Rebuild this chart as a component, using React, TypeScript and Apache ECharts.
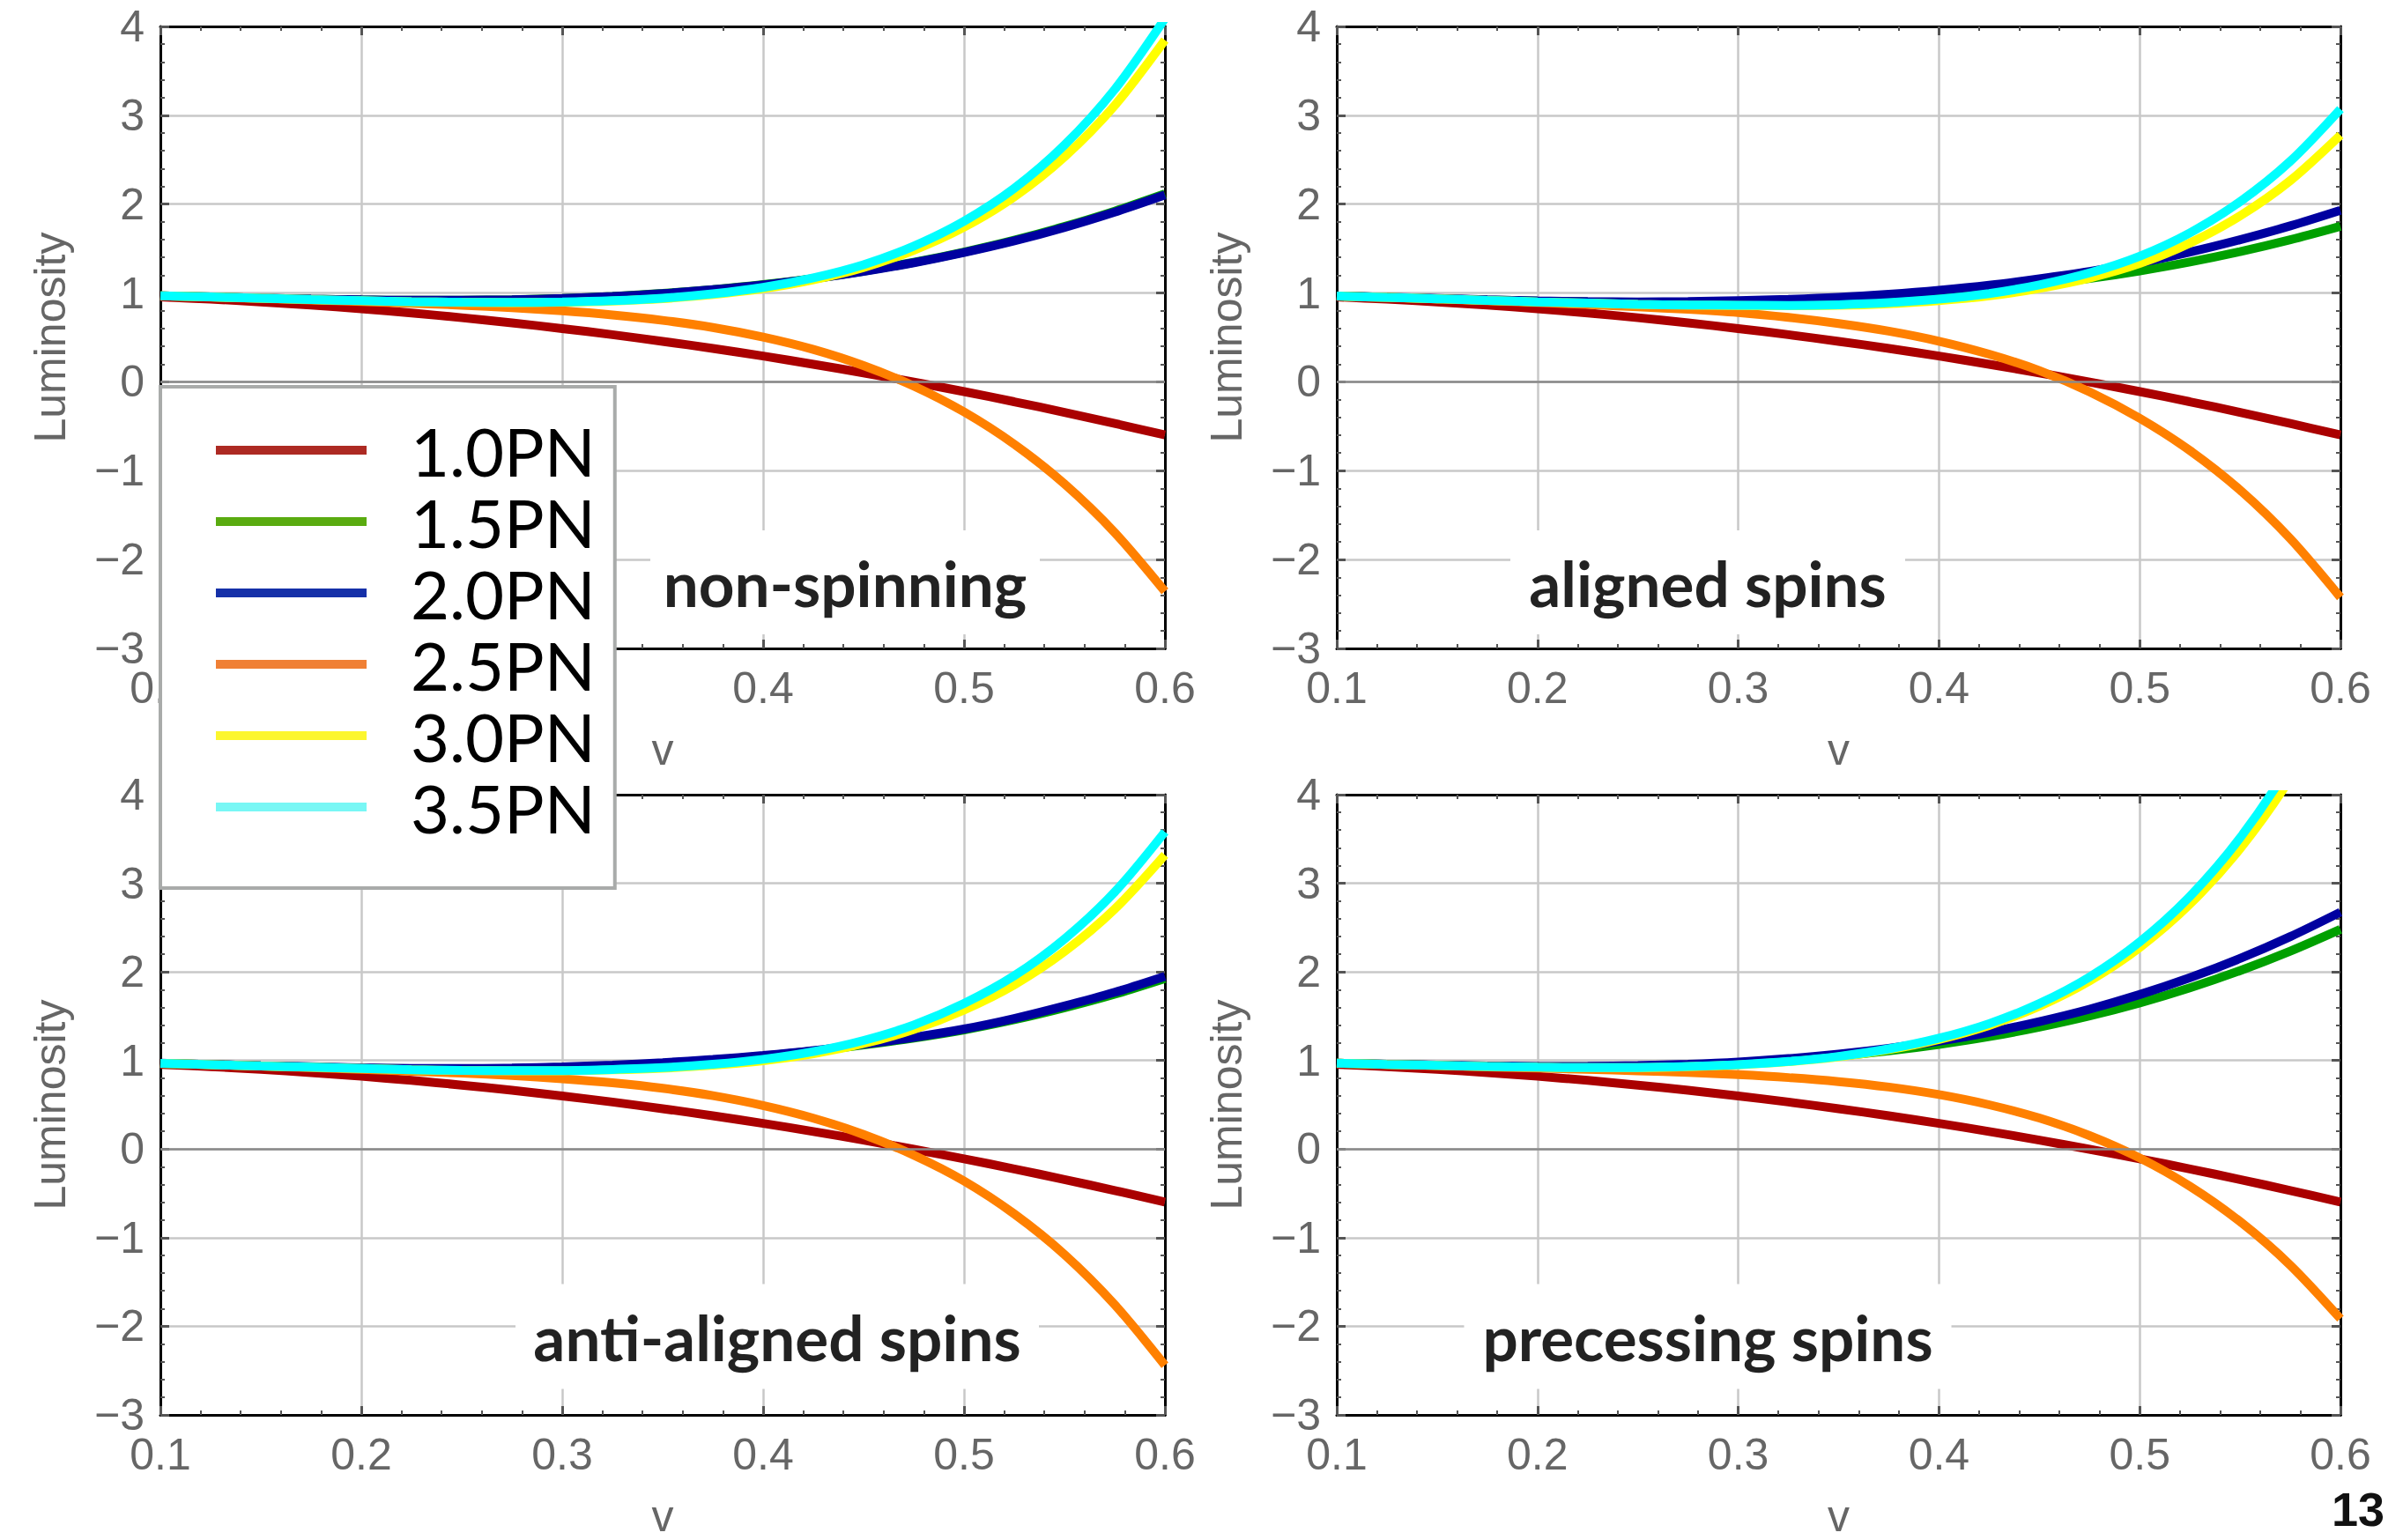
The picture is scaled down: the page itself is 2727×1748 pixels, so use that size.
import React, { useEffect, useRef } from 'react';
import * as echarts from 'echarts';

// ---------------- data ----------------
const V = [
  0.1, 0.125, 0.15, 0.175, 0.2, 0.225, 0.25, 0.275, 0.3, 0.325, 0.35,
  0.375, 0.4, 0.425, 0.45, 0.475, 0.5, 0.525, 0.55, 0.575, 0.6,
];
const PN_ORDERS = ['1.0PN', '1.5PN', '2.0PN', '2.5PN', '3.0PN', '3.5PN'];
const PANEL_TITLES = ['non-spinning', 'aligned spins', 'anti-aligned spins', 'precessing spins'];
const X_MIN = 0.1;
const X_MAX = 0.6;
const X_STEP = 0.1;
const Y_MIN = -3;
const Y_MAX = 4;
const Y_STEP = 1;

// 1.0PN is the same in every panel (no spin terms)
const L_10 = [
  0.956, 0.931, 0.9, 0.864, 0.822, 0.775, 0.722, 0.664, 0.6, 0.531, 0.456,
  0.376, 0.29, 0.198, 0.101, -0.002, -0.11, -0.224, -0.343, -0.468, -0.598,
];

// non-spinning
const NS_15 = [
  0.969, 0.956, 0.942, 0.931, 0.923, 0.918, 0.919, 0.925, 0.939, 0.962, 0.995,
  1.039, 1.094, 1.163, 1.246, 1.345, 1.461, 1.594, 1.748, 1.921, 2.116,
];
const NS_20 = [
  0.969, 0.956, 0.942, 0.931, 0.923, 0.918, 0.919, 0.924, 0.938, 0.961, 0.993,
  1.037, 1.091, 1.16, 1.242, 1.34, 1.455, 1.586, 1.738, 1.91, 2.103,
];
const NS_25 = [
  0.968, 0.954, 0.938, 0.922, 0.905, 0.885, 0.863, 0.834, 0.799, 0.753, 0.692,
  0.612, 0.504, 0.365, 0.183, -0.047, -0.338, -0.702, -1.149, -1.696, -2.358,
];
const NS_30 = [
  0.968, 0.955, 0.94, 0.926, 0.914, 0.902, 0.895, 0.892, 0.896, 0.91, 0.936,
  0.982, 1.049, 1.149, 1.287, 1.481, 1.74, 2.083, 2.533, 3.111, 3.847,
];
const NS_35 = [
  0.968, 0.955, 0.94, 0.926, 0.914, 0.902, 0.896, 0.893, 0.898, 0.913, 0.942,
  0.991, 1.063, 1.171, 1.319, 1.528, 1.808, 2.178, 2.665, 3.291, 4.089,
];

// aligned spins
const AL_15 = [
  0.967, 0.952, 0.937, 0.922, 0.909, 0.899, 0.892, 0.89, 0.894, 0.904, 0.922,
  0.949, 0.986, 1.032, 1.091, 1.163, 1.249, 1.349, 1.465, 1.599, 1.75,
];
const AL_20 = [
  0.967, 0.952, 0.938, 0.923, 0.911, 0.903, 0.899, 0.904, 0.915, 0.928, 0.95,
  0.985, 1.03, 1.087, 1.16, 1.242, 1.34, 1.461, 1.6, 1.755, 1.93,
];
const AL_25 = [
  0.966, 0.95, 0.934, 0.914, 0.893, 0.871, 0.844, 0.816, 0.779, 0.725, 0.656,
  0.57, 0.457, 0.311, 0.127, -0.112, -0.41, -0.773, -1.218, -1.765, -2.425,
];
const AL_30 = [
  0.966, 0.95, 0.935, 0.917, 0.9, 0.886, 0.871, 0.864, 0.86, 0.856, 0.861,
  0.88, 0.914, 0.968, 1.053, 1.169, 1.332, 1.562, 1.868, 2.265, 2.777,
];
const AL_35 = [
  0.966, 0.95, 0.935, 0.917, 0.9, 0.886, 0.871, 0.865, 0.862, 0.86, 0.868,
  0.891, 0.931, 0.994, 1.092, 1.226, 1.414, 1.677, 2.028, 2.483, 3.07,
];

// anti-aligned spins
const AA_15 = [
  0.968, 0.954, 0.939, 0.927, 0.915, 0.908, 0.906, 0.911, 0.922, 0.941, 0.968,
  1.004, 1.05, 1.106, 1.175, 1.253, 1.345, 1.46, 1.595, 1.748, 1.925,
];
const AA_20 = [
  0.969, 0.955, 0.941, 0.929, 0.918, 0.911, 0.91, 0.916, 0.928, 0.947, 0.975,
  1.011, 1.056, 1.112, 1.182, 1.261, 1.355, 1.474, 1.615, 1.77, 1.95,
];
const AA_25 = [
  0.968, 0.953, 0.937, 0.92, 0.901, 0.879, 0.857, 0.83, 0.794, 0.748, 0.686,
  0.603, 0.492, 0.349, 0.165, -0.069, -0.36, -0.732, -1.19, -1.756, -2.44,
];
const AA_30 = [
  0.968, 0.953, 0.938, 0.924, 0.909, 0.895, 0.887, 0.884, 0.884, 0.894, 0.913,
  0.947, 0.998, 1.077, 1.191, 1.35, 1.57, 1.854, 2.229, 2.708, 3.32,
];
const AA_35 = [
  0.968, 0.953, 0.938, 0.924, 0.909, 0.895, 0.888, 0.885, 0.886, 0.898, 0.919,
  0.957, 1.013, 1.1, 1.226, 1.401, 1.643, 1.956, 2.371, 2.901, 3.58,
];

// precessing spins
const PR_15 = [
  0.97, 0.957, 0.946, 0.937, 0.931, 0.93, 0.936, 0.949, 0.971, 1.004, 1.049,
  1.108, 1.181, 1.269, 1.377, 1.503, 1.65, 1.82, 2.014, 2.234, 2.48,
];
const PR_20 = [
  0.97, 0.957, 0.947, 0.938, 0.933, 0.934, 0.942, 0.958, 0.983, 1.021, 1.072,
  1.138, 1.219, 1.318, 1.439, 1.579, 1.744, 1.934, 2.151, 2.398, 2.674,
];
const PR_25 = [
  0.969, 0.955, 0.942, 0.928, 0.914, 0.9, 0.884, 0.865, 0.84, 0.807, 0.762,
  0.7, 0.615, 0.5, 0.35, 0.152, -0.1, -0.419, -0.818, -1.31, -1.914,
];
const PR_30 = [
  0.969, 0.956, 0.944, 0.932, 0.924, 0.92, 0.921, 0.931, 0.951, 0.986, 1.041,
  1.123, 1.238, 1.396, 1.612, 1.898, 2.275, 2.764, 3.39, 4.184, 5.18,
];
const PR_35 = [
  0.969, 0.956, 0.944, 0.932, 0.924, 0.92, 0.921, 0.932, 0.953, 0.989, 1.046,
  1.131, 1.251, 1.416, 1.642, 1.942, 2.338, 2.852, 3.512, 4.35, 5.404,
];

const PANEL_DATA = [
  [L_10, NS_15, NS_20, NS_25, NS_30, NS_35],
  [L_10, AL_15, AL_20, AL_25, AL_30, AL_35],
  [L_10, AA_15, AA_20, AA_25, AA_30, AA_35],
  [L_10, PR_15, PR_20, PR_25, PR_30, PR_35],
];

// ---------------- styles / layout ----------------
const LINE_COLORS = ['#aa0000', '#00a000', '#0000a0', '#ff8000', '#ffff00', '#00ffff'];
const LEGEND_COLORS = ['#ad2a23', '#5aab10', '#1530a8', '#f08035', '#fcf62e', '#78f7f5'];

const GRIDS = [
  { left: 182, top: 30, width: 1140, height: 706 },
  { left: 1517, top: 30, width: 1139, height: 706 },
  { left: 182, top: 902, width: 1140, height: 704 },
  { left: 1517, top: 902, width: 1139, height: 704 },
];
const TITLE_BOXES = [
  { cx: 959, cy: 661, w: 442, h: 118 },
  { cx: 1938, cy: 661, w: 448, h: 118 },
  { cx: 882, cy: 1517, w: 594, h: 119 },
  { cx: 1938, cy: 1517, w: 553, h: 119 },
];

const FONT = 'Liberation Sans';
const LABEL_GRAY = '#666666';

function tickCommon() {
  return {
    axisTick: { show: true, inside: true, length: 10, lineStyle: { color: '#555', width: 3 } },
    minorTick: { show: true, splitNumber: 5, length: 5, lineStyle: { color: '#555', width: 2 } },
    axisLine: { show: true, onZero: false, lineStyle: { color: '#000', width: 3 } },
  };
}

function buildOption() {
  const xAxis: any[] = [];
  const yAxis: any[] = [];
  const series: any[] = [];

  GRIDS.forEach((_, gi) => {
    xAxis.push({
      type: 'value',
      gridIndex: gi,
      position: 'bottom',
      min: X_MIN,
      max: X_MAX,
      interval: X_STEP,
      ...tickCommon(),
      splitLine: { show: true, lineStyle: { color: '#c8c8c8', width: 2.5 } },
      axisLabel: {
        show: true,
        margin: 20,
        fontSize: 50,
        fontFamily: FONT,
        color: LABEL_GRAY,
        formatter: (v: number) => v.toFixed(1),
      },
      name: 'v',
      nameLocation: 'middle',
      nameGap: 90,
      nameTextStyle: { fontSize: 50, fontFamily: FONT, color: LABEL_GRAY },
    });
    xAxis.push({
      type: 'value',
      gridIndex: gi,
      position: 'top',
      min: X_MIN,
      max: X_MAX,
      interval: X_STEP,
      ...tickCommon(),
      splitLine: { show: false },
      axisLabel: { show: false },
    });
    yAxis.push({
      type: 'value',
      gridIndex: gi,
      position: 'left',
      min: Y_MIN,
      max: Y_MAX,
      interval: Y_STEP,
      ...tickCommon(),
      splitLine: { show: true, lineStyle: { color: '#c8c8c8', width: 2.5 } },
      axisLabel: {
        show: true,
        margin: 18,
        fontSize: 50,
        fontFamily: FONT,
        color: LABEL_GRAY,
        formatter: (v: number) => (v < 0 ? '\u2212' + Math.abs(v) : String(v)),
      },
      name: 'Luminosity',
      nameLocation: 'middle',
      nameGap: 100,
      nameTextStyle: { fontSize: 50, fontFamily: FONT, color: LABEL_GRAY },
    });
    yAxis.push({
      type: 'value',
      gridIndex: gi,
      position: 'right',
      min: Y_MIN,
      max: Y_MAX,
      interval: Y_STEP,
      ...tickCommon(),
      splitLine: { show: false },
      axisLabel: { show: false },
    });

    PANEL_DATA[gi].forEach((arr, k) => {
      const s: any = {
        type: 'line',
        name: PN_ORDERS[k],
        xAxisIndex: gi * 2,
        yAxisIndex: gi * 2,
        data: V.map((v, j) => [v, arr[j]]),
        showSymbol: false,
        symbol: 'none',
        smooth: 0.3,
        clip: true,
        silent: true,
        z: 2,
        lineStyle: { width: 10, color: LINE_COLORS[k] },
        itemStyle: { color: LINE_COLORS[k] },
        emphasis: { disabled: true },
      };
      if (k === PN_ORDERS.length - 1) {
        s.markLine = {
          silent: true,
          symbol: ['none', 'none'],
          label: { show: false },
          lineStyle: { color: '#8a8a8a', width: 2.5, type: 'solid' },
          emphasis: { disabled: true },
          data: [{ yAxis: 0 }],
        };
      }
      series.push(s);
    });
  });

  const graphic: any[] = TITLE_BOXES.map((b, i) => ({
    type: 'group',
    x: b.cx,
    y: b.cy,
    children: [
      {
        type: 'rect',
        z: 1,
        shape: { x: -b.w / 2, y: -b.h / 2, width: b.w, height: b.h },
        style: { fill: '#ffffff' },
      },
      {
        type: 'text',
        z: 1,
        style: {
          text: PANEL_TITLES[i],
          x: 0,
          y: 0,
          fill: '#222222',
          font: 'bold 71px Lato',
          textAlign: 'center',
          textVerticalAlign: 'middle',
          align: 'center',
          verticalAlign: 'middle',
        },
      },
    ],
  }));
  graphic.push({
    type: 'text',
    x: 2676,
    y: 1740,
    z: 1,
    style: {
      text: '13',
      fill: '#111111',
      font: 'bold 54px "Liberation Sans"',
      textAlign: 'center',
      textVerticalAlign: 'bottom',
      align: 'center',
      verticalAlign: 'bottom',
    },
  });

  return {
    animation: false,
    backgroundColor: '#ffffff',
    textStyle: { fontFamily: FONT },
    grid: GRIDS.map((g) => ({ ...g, containLabel: false })),
    xAxis,
    yAxis,
    legend: {
      show: true,
      orient: 'vertical',
      left: 182,
      top: 439,
      icon: 'rect',
      itemWidth: 171,
      itemHeight: 10,
      itemGap: 5,
      padding: [34, 22, 54, 63],
      backgroundColor: '#ffffff',
      borderColor: '#a9abaa',
      borderWidth: 4,
      borderRadius: 0,
      selectedMode: false,
      textStyle: {
        fontFamily: 'Lato',
        fontSize: 76,
        color: '#000000',
        lineHeight: 76,
        padding: [0, 0, 0, 45],
      },
      data: PN_ORDERS.map((n, i) => ({
        name: n,
        itemStyle: { color: LEGEND_COLORS[i], borderWidth: 0 },
      })),
    },
    graphic,
    series,
  };
}

export default function App() {
  const ref = useRef<HTMLDivElement>(null);
  useEffect(() => {
    if (!ref.current) return;
    const chart = echarts.init(ref.current, null, { renderer: 'svg', width: 2727, height: 1748 });
    chart.setOption(buildOption() as any);
    return () => chart.dispose();
  }, []);
  return (
    <div
      ref={ref}
      style={{ position: 'fixed', left: 0, top: 0, width: 2727, height: 1748, background: '#fff' }}
    />
  );
}
